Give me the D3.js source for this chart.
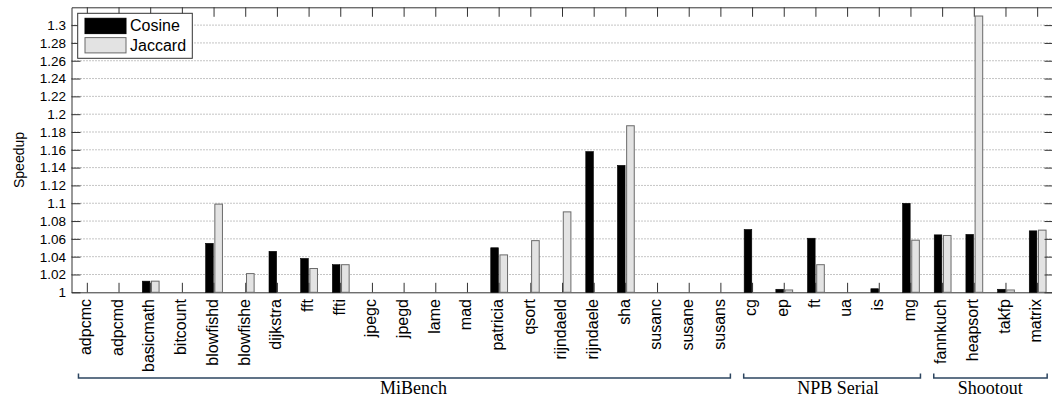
<!DOCTYPE html>
<html>
<head>
<meta charset="utf-8">
<script src="https://cdn.jsdelivr.net/npm/d3@7"></script>
<style>
  html, body { margin: 0; padding: 0; background: #fff; }
  svg { display: block; }
  text { font-family: "Liberation Sans", Arial, sans-serif; fill: #000; }
</style>
</head>
<body>
<svg id="chart" width="1052" height="399"></svg>
<script>
const categories = ["adpcmc","adpcmd","basicmath","bitcount","blowfishd","blowfishe","dijkstra","fft","ffti","jpegc","jpegd","lame","mad","patricia","qsort","rijndaeld","rijndaele","sha","susanc","susane","susans","cg","ep","ft","ua","is","mg","fannkuch","heapsort","takfp","matrix"];
const cosine  = [1,1,1.0125,1,1.055,1,1.046,1.038,1.031,1,1,1,1,1.050,1,1,1.158,1.1425,1,1,1,1.0705,1.0034,1.0607,1,1.004,1.0999,1.0645,1.065,1.0034,1.069];
const jaccard = [1,1,1.0125,1,1.099,1.021,1,1.0267,1.031,1,1,1,1,1.042,1.058,1.0903,1,1.187,1,1,1,1,1.0026,1.031,1,1,1.0585,1.0638,1.3102,1.0026,1.0698];
const seriesNames = ["Cosine","Jaccard"];
const yTicks = [1,1.02,1.04,1.06,1.08,1.1,1.12,1.14,1.16,1.18,1.2,1.22,1.24,1.26,1.28,1.3];
const groupNames = ["MiBench","NPB Serial","Shootout"];
const groupFirst = [0,21,27];
const groupLast  = [20,26,30];
const groupLabelAt = [10.3,23.7,28.5];

const svg = d3.select("#chart");
const L = 71.5, R = 1053.5, T = 7.3, B = 292.3;

const x = d3.scaleBand().domain(categories).range([L, R]).padding(0);
const bw = x.bandwidth();
const cx = c => x(c) + bw / 2;
const xi = i => L + (i + 0.5) * bw;
const y = d3.scaleLinear().domain([1, 1.32]).range([B, T]);

// grid
svg.append("g").selectAll("line").data(yTicks.filter(v => v > 1)).join("line")
  .attr("x1", L).attr("x2", R).attr("y1", d => y(d)).attr("y2", d => y(d))
  .attr("stroke", "#8a8a8a").attr("stroke-width", 1).attr("stroke-dasharray", "1,2");

// x ticks (inward), bottom and top
const xb = svg.append("g").attr("transform", `translate(0,${B})`)
  .call(d3.axisBottom(x).tickSizeInner(-9.5).tickSizeOuter(0).tickFormat(""));
const xt = svg.append("g").attr("transform", `translate(0,${T})`)
  .call(d3.axisTop(x).tickSizeInner(-9.5).tickSizeOuter(0).tickFormat(""));
[xb, xt].forEach(g => {
  g.selectAll(".tick line").attr("stroke", "#333");
  g.select(".domain").attr("stroke", "#333");
});

// bars
const barW = 0.24 * bw, off = 0.145 * bw;
const rows = categories.map((c, i) => ({c, cos: cosine[i], jac: jaccard[i]}));
svg.append("g").selectAll("rect").data(rows).join("rect")
  .attr("x", d => cx(d.c) - off - barW / 2).attr("width", barW)
  .attr("y", d => y(d.cos)).attr("height", d => y(1) - y(d.cos))
  .attr("fill", "#000").attr("stroke", "#000").attr("stroke-width", 0.6);
svg.append("g").selectAll("rect").data(rows).join("rect")
  .attr("x", d => cx(d.c) + off - barW / 2).attr("width", barW)
  .attr("y", d => y(d.jac)).attr("height", d => y(1) - y(d.jac))
  .attr("fill", "#e3e3e3").attr("stroke", "#6a6a6a").attr("stroke-width", 1)
  .attr("display", d => d.jac > 1 ? null : "none");

// y axes
const yl = svg.append("g").attr("transform", `translate(${L},0)`)
  .call(d3.axisLeft(y).tickValues(yTicks).tickSizeInner(-9).tickSizeOuter(0).tickPadding(5.5)
    .tickFormat(d => String(+d.toFixed(2))));
yl.selectAll("text").style("font-size", "13.5px").attr("fill", "#000");
yl.selectAll(".tick line").attr("stroke", "#333");
yl.select(".domain").attr("stroke", "#333");
const yr = svg.append("g").attr("transform", `translate(${R},0)`)
  .call(d3.axisRight(y).tickValues(yTicks).tickSizeInner(-9).tickSizeOuter(0).tickFormat(""));
yr.selectAll(".tick line").attr("stroke", "#333");
yr.select(".domain").attr("stroke", "#333");

// category labels
svg.append("g").selectAll("text").data(categories).join("text")
  .attr("transform", d => `translate(${cx(d) + 3.8},299) rotate(-90)`)
  .attr("text-anchor", "end")
  .style("font-size", "16px")
  .text(d => d);

// y label
svg.append("text").attr("transform", "translate(24,160) rotate(-90)")
  .attr("text-anchor", "middle").style("font-size", "14px").text("Speedup");

// legend
const lg = svg.append("g");
lg.append("rect").attr("x", 77.7).attr("y", 13.3).attr("width", 114.6).attr("height", 45)
  .attr("fill", "#fff").attr("stroke", "#333").attr("stroke-width", 1);
const legColors = [["#000", "#000"], ["#e3e3e3", "#6a6a6a"]];
seriesNames.forEach((n, i) => {
  lg.append("rect").attr("x", 85).attr("y", 18.3 + i * 19.3).attr("width", 41).attr("height", 15.3)
    .attr("fill", legColors[i][0]).attr("stroke", legColors[i][1]).attr("stroke-width", 1);
  lg.append("text").attr("x", 130).attr("y", 31.3 + i * 19.5).style("font-size", "16px").text(n);
});

// group brackets
const gg = svg.append("g");
groupNames.forEach((n, i) => {
  const x1 = xi(groupFirst[i] - 0.28), x2 = xi(groupLast[i] + 0.3), yy = 378;
  gg.append("path")
    .attr("d", `M${x1},${yy - 4.5}V${yy}H${x2}V${yy - 4.5}`)
    .attr("fill", "none").attr("stroke", "#2c4560").attr("stroke-width", 1.5);
  gg.append("text").attr("x", xi(groupLabelAt[i])).attr("y", 394)
    .attr("text-anchor", "middle")
    .style("font-family", "'Liberation Serif', 'Times New Roman', serif").style("font-size", "18px")
    .text(n);
});
</script>
</body>
</html>
